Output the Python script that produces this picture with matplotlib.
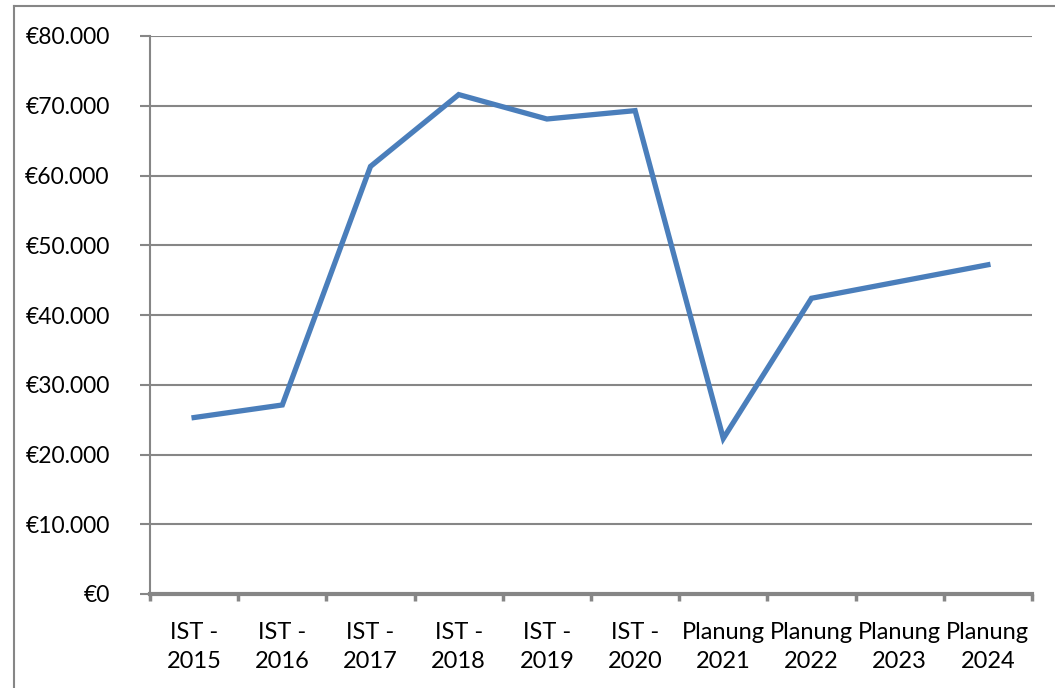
import matplotlib
matplotlib.use("Agg")
import matplotlib.pyplot as plt
from matplotlib.lines import Line2D
from matplotlib.ticker import FuncFormatter, FixedLocator

categories = ["IST -\n2015", "IST -\n2016", "IST -\n2017", "IST -\n2018", "IST -\n2019",
              "IST -\n2020", "Planung\n2021", "Planung\n2022", "Planung\n2023", "Planung\n2024"]
values = [25300, 27100, 61300, 71600, 68100, 69300, 22300, 42400, 44800, 47200]
y_ticks = [0, 10000, 20000, 30000, 40000, 50000, 60000, 70000, 80000]

plt.rcParams['font.family'] = ['Lato', 'DejaVu Sans']

W, H = 1055, 688
fig = plt.figure(figsize=(W / 100, H / 100), dpi=100)
ax = fig.add_axes([150 / W, 1 - 594 / H, (1032 - 150) / W, (594 - 36) / H])

grid_col = "#868686"
line_col = "#4a7ebb"

n = len(categories)
x = [i + 0.5 for i in range(n)]
ax.plot(x, values, color=line_col, linewidth=3.8, solid_joinstyle="miter", zorder=3)

ax.set_xlim(0, n)
ax.set_ylim(0, 80000)
ax.yaxis.set_major_locator(FixedLocator(y_ticks))


def fmt(v, pos):
    v = int(round(v))
    if v == 0:
        return "€0"
    return "€" + f"{v:,}".replace(",", ".")


ax.yaxis.set_major_formatter(FuncFormatter(fmt))
ax.grid(axis="y", color=grid_col, linewidth=1.5, zorder=1)
ax.set_axisbelow(True)

# category tick boundaries
ax.set_xticks(range(n + 1))
ax.set_xticklabels([""] * (n + 1))
ax.set_xticks(x, minor=True)
ax.set_xticklabels(categories, minor=True, fontsize=17, linespacing=1.5)
ax.tick_params(axis="x", which="minor", length=0, pad=20)
ax.tick_params(axis="x", which="major", length=5, width=2.5, color=grid_col, direction="out")
ax.tick_params(axis="y", length=7, width=1.5, color=grid_col, labelsize=16.5, pad=22)

for s in ["top", "right"]:
    ax.spines[s].set_visible(False)
ax.spines["left"].set_color(grid_col)
ax.spines["left"].set_linewidth(1.5)
ax.spines["bottom"].set_color(grid_col)
ax.spines["bottom"].set_linewidth(3)

# outer chart border (only left/top visible in crop)
fig.add_artist(Line2D([13.5 / W, 13.5 / W], [0, 1 - 6 / H], transform=fig.transFigure,
                      color=grid_col, linewidth=1.5))
fig.add_artist(Line2D([13.5 / W, 1], [1 - 6 / H, 1 - 6 / H], transform=fig.transFigure,
                      color=grid_col, linewidth=1.5))

fig.savefig("out.png", dpi=100)
